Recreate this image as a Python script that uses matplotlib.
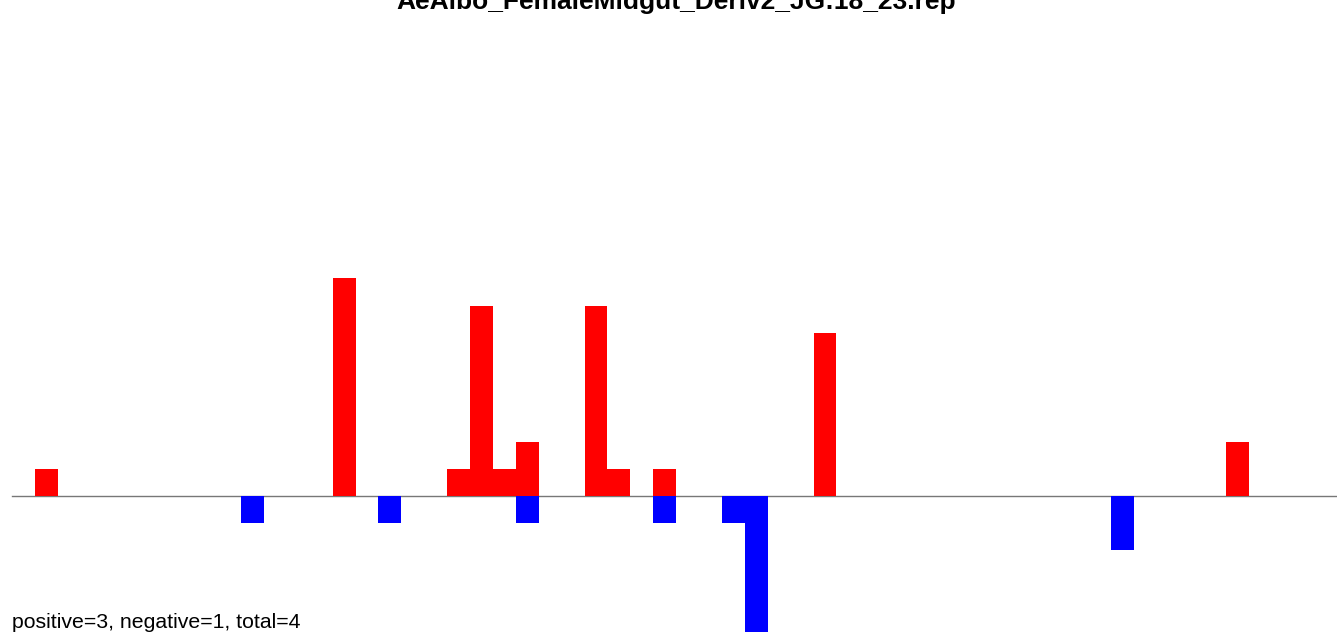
import matplotlib.pyplot as plt

# Bar positions (slot index) and heights
pos_x = [1, 14, 19, 20, 21, 22, 25, 26, 28, 35, 53]
pos_y = [1, 8, 1, 7, 1, 2, 7, 1, 1, 6, 2]

neg_x = [10, 16, 22, 28, 31, 32, 48]
neg_y = [-1, -1, -1, -1, -1, -5, -2]

title = "AeAlbo_FemaleMidgut_Deriv2_JG:18_23.rep"
footer = "positive=3, negative=1, total=4"

plt.rcParams['font.family'] = ['Liberation Sans', 'DejaVu Sans']

fig = plt.figure(figsize=(13.37, 6.38), dpi=100)
ax = fig.add_axes([0, 0, 1, 1])

ax.bar(pos_x, pos_y, width=1.0, align='edge', color='#ff0000', linewidth=0)
ax.bar(neg_x, neg_y, width=1.0, align='edge', color='#0000ff', linewidth=0)

ax.plot([0, 60], [0, 0], color='#777777', linewidth=1.0, zorder=0.5)

ax.set_xlim(-0.525, 57.86)
ax.set_ylim(-5.22, 18.24)
ax.axis('off')

fig.text(0.5056, 1 - 9 / 638, title, ha='center', va='baseline',
         fontsize=19, fontweight='bold')
fig.text(12 / 1337, 1 - 628 / 638, footer, ha='left', va='baseline',
         fontsize=15.3)

fig.savefig("out.png", dpi=100)
